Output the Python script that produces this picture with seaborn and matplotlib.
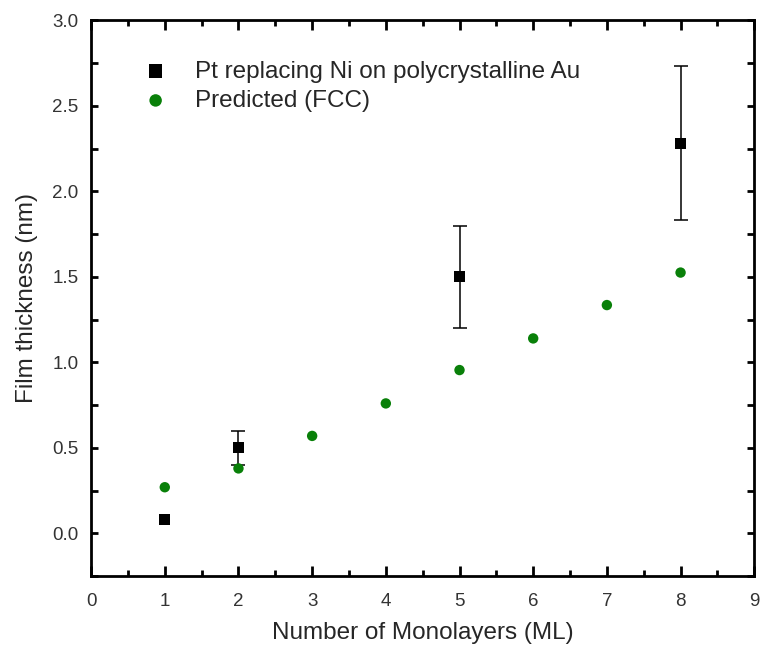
import matplotlib
matplotlib.use("Agg")
import matplotlib.pyplot as plt
from matplotlib.ticker import MultipleLocator
import seaborn as sns
import pandas as pd
import numpy as np

# Measured Pt film thickness and predicted FCC thickness
meas_layers = [1, 2, 5, 8]
meas_thickness = [0.08, 0.50, 1.50, 2.28]
meas_err = [np.nan, 0.10, 0.30, 0.45]

pred_layers = [1, 2, 3, 4, 5, 6, 7, 8]
pred_thickness = [0.27, 0.38, 0.57, 0.76, 0.955, 1.14, 1.335, 1.525]

meas_label = "Pt replacing Ni on polycrystalline Au"
pred_label = "Predicted (FCC)"

sns.set_theme(style="ticks")
plt.rcParams["font.family"] = ["Liberation Sans", "DejaVu Sans"]

fig = plt.figure(figsize=(7.72, 6.54), dpi=100)
ax = fig.add_axes([0.118, 0.119, 0.859, 0.850])

meas = pd.DataFrame({"layers": meas_layers, "thickness": meas_thickness})
pred = pd.DataFrame({"layers": pred_layers, "thickness": pred_thickness})

ax.errorbar(meas_layers, meas_thickness, yerr=meas_err, fmt="none",
            ecolor="black", elinewidth=1.1, capsize=5, capthick=1.1, zorder=2)
sns.scatterplot(data=meas, x="layers", y="thickness", ax=ax, marker="s",
                color="black", s=64, edgecolor="none", label=meas_label, zorder=3)
sns.scatterplot(data=pred, x="layers", y="thickness", ax=ax, marker="o",
                color="#098009", s=56, edgecolor="none", label=pred_label, zorder=3)

ax.set_xlim(0, 9)
ax.set_ylim(-0.25, 3.0)
ax.xaxis.set_major_locator(MultipleLocator(1))
ax.xaxis.set_minor_locator(MultipleLocator(0.5))
ax.yaxis.set_minor_locator(MultipleLocator(0.25))
ax.set_yticks([0.0, 0.5, 1.0, 1.5, 2.0, 2.5, 3.0])
ax.set_yticklabels(["0.0", "0.5", "1.0", "1.5", "2.0", "2.5", "3.0"])

for side in ["top", "right", "bottom", "left"]:
    ax.spines[side].set_visible(True)
    ax.spines[side].set_linewidth(2.0)
    ax.spines[side].set_color("black")

ax.tick_params(axis="both", which="both", direction="in", top=True, right=True,
               width=2.0, colors="black", labelcolor="#333333", labelsize=13.5)
ax.tick_params(axis="x", which="major", length=7, pad=12)
ax.tick_params(axis="x", which="minor", length=4)
ax.tick_params(axis="y", which="major", length=5, pad=9)
ax.tick_params(axis="y", which="minor", length=5)

ax.set_xlabel("Number of Monolayers (ML)", fontsize=17.5, labelpad=9)
ax.set_ylabel("Film thickness (nm)", fontsize=17.5, labelpad=10)

leg = ax.legend(loc="upper left", bbox_to_anchor=(0.035, 0.967), frameon=False,
                fontsize=17.5, handletextpad=0.8, labelspacing=0.3,
                markerscale=1.2, handlelength=1.6)

fig.savefig("out.png", dpi=100, facecolor="white")
